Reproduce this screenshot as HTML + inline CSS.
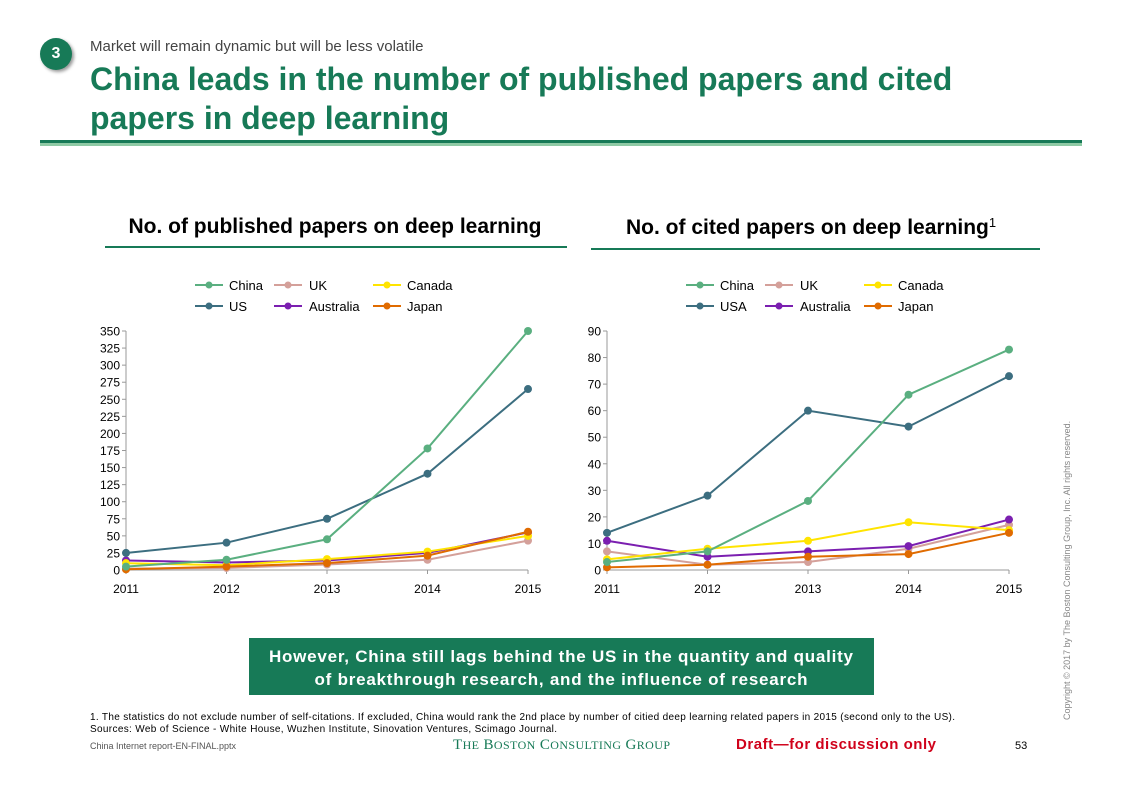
<!DOCTYPE html>
<html><head><meta charset="utf-8"><style>
body{margin:0;width:1123px;height:793px;background:#fff;font-family:"Liberation Sans",Arial,sans-serif;position:relative;overflow:hidden}
.a{position:absolute}
</style></head><body>
<div class="a" style="left:40px;top:38px;width:32px;height:32px;border-radius:50%;background:#177a57;box-shadow:2px 2px 3px #999;color:#fff;font-weight:bold;font-size:16px;text-align:center;line-height:32px">3</div>
<div class="a" style="left:90px;top:38px;font-size:15px;color:#444">Market will remain dynamic but will be less volatile</div>
<div class="a" style="left:90px;top:60px;font-size:32px;font-weight:bold;color:#177a57;line-height:39px;white-space:nowrap">China leads in the number of published papers and cited<br>papers in deep learning</div>
<div class="a" style="left:40px;top:140px;width:1042px;height:3px;background:#177a57"></div>
<div class="a" style="left:40px;top:143px;width:1042px;height:3px;background:#8fcaa5"></div>
<div class="a" style="left:1062px;top:720px;transform:rotate(-90deg);transform-origin:0 0;font-size:9px;color:#888;white-space:nowrap">Copyright © 2017 by The Boston Consulting Group, Inc. All rights reserved.</div>
<svg class="a" style="left:0;top:0" width="1123" height="793" font-family="Liberation Sans,Arial,sans-serif">
<text x="335" y="233" font-size="21" font-weight="bold" text-anchor="middle">No. of published papers on deep learning</text>
<line x1="105" y1="247" x2="567" y2="247" stroke="#177a57" stroke-width="2"/>
<text x="626" y="234" font-size="21" font-weight="bold">No. of cited papers on deep learning<tspan font-size="13" dy="-7" font-weight="normal">1</tspan></text>
<line x1="591" y1="249" x2="1040" y2="249" stroke="#177a57" stroke-width="2"/>
<g font-size="13">
<g>
<line x1="195" y1="285" x2="223" y2="285" stroke="#5aaf80" stroke-width="2"/><circle cx="209" cy="285" r="3.5" fill="#5aaf80"/><text x="229" y="290">China</text>
<line x1="274" y1="285" x2="302" y2="285" stroke="#d4a09a" stroke-width="2"/><circle cx="288" cy="285" r="3.5" fill="#d4a09a"/><text x="309" y="290">UK</text>
<line x1="373" y1="285" x2="401" y2="285" stroke="#ffe400" stroke-width="2"/><circle cx="387" cy="285" r="3.5" fill="#ffe400"/><text x="407" y="290">Canada</text>
<line x1="195" y1="306" x2="223" y2="306" stroke="#3c6e80" stroke-width="2"/><circle cx="209" cy="306" r="3.5" fill="#3c6e80"/><text x="229" y="311">US</text>
<line x1="274" y1="306" x2="302" y2="306" stroke="#7b1fb0" stroke-width="2"/><circle cx="288" cy="306" r="3.5" fill="#7b1fb0"/><text x="309" y="311">Australia</text>
<line x1="373" y1="306" x2="401" y2="306" stroke="#e06b00" stroke-width="2"/><circle cx="387" cy="306" r="3.5" fill="#e06b00"/><text x="407" y="311">Japan</text>
</g>
<g transform="translate(491,0)">
<line x1="195" y1="285" x2="223" y2="285" stroke="#5aaf80" stroke-width="2"/><circle cx="209" cy="285" r="3.5" fill="#5aaf80"/><text x="229" y="290">China</text>
<line x1="274" y1="285" x2="302" y2="285" stroke="#d4a09a" stroke-width="2"/><circle cx="288" cy="285" r="3.5" fill="#d4a09a"/><text x="309" y="290">UK</text>
<line x1="373" y1="285" x2="401" y2="285" stroke="#ffe400" stroke-width="2"/><circle cx="387" cy="285" r="3.5" fill="#ffe400"/><text x="407" y="290">Canada</text>
<line x1="195" y1="306" x2="223" y2="306" stroke="#3c6e80" stroke-width="2"/><circle cx="209" cy="306" r="3.5" fill="#3c6e80"/><text x="229" y="311">USA</text>
<line x1="274" y1="306" x2="302" y2="306" stroke="#7b1fb0" stroke-width="2"/><circle cx="288" cy="306" r="3.5" fill="#7b1fb0"/><text x="309" y="311">Australia</text>
<line x1="373" y1="306" x2="401" y2="306" stroke="#e06b00" stroke-width="2"/><circle cx="387" cy="306" r="3.5" fill="#e06b00"/><text x="407" y="311">Japan</text>
</g>
</g>
<g id="charts"></g>
<rect x="249" y="638" width="625" height="57" fill="#177a57"/>
<text x="561" y="662" font-size="17" font-weight="bold" fill="#fff" text-anchor="middle" textLength="584">However, China still lags behind the US in the quantity and quality</text>
<text x="561" y="685" font-size="17" font-weight="bold" fill="#fff" text-anchor="middle" textLength="493">of breakthrough research, and the influence of research</text>
<text x="90" y="720" font-size="10" textLength="865">1. The statistics do not exclude number of self-citations. If excluded, China would rank the 2nd place by number of citied deep learning related papers in 2015 (second only to the US).</text>
<text x="90" y="732" font-size="10" textLength="467">Sources: Web of Science - White House, Wuzhen Institute, Sinovation Ventures, Scimago Journal.</text>
<text x="90" y="749" font-size="9" fill="#555">China Internet report-EN-FINAL.pptx</text>
<text x="453" y="749" font-size="15" font-family="Liberation Serif,serif" fill="#177a57" textLength="217">T<tspan font-size="12">HE</tspan> B<tspan font-size="12">OSTON</tspan> C<tspan font-size="12">ONSULTING</tspan> G<tspan font-size="12">ROUP</tspan></text>
<text x="736" y="749" font-size="15" font-weight="bold" fill="#d0021b" textLength="200">Draft—for discussion only</text>
<text x="1015" y="749" font-size="11">53</text>
</svg>
<script>
const ns="http://www.w3.org/2000/svg",g=document.getElementById("charts");
function el(t,a,txt){const e=document.createElementNS(ns,t);for(const k in a)e.setAttribute(k,a[k]);if(txt!=null)e.textContent=txt;g.appendChild(e);return e}
const cols={China:"#5aaf80",US:"#3c6e80",UK:"#d4a09a",Canada:"#ffe400",Australia:"#7b1fb0",Japan:"#e06b00"};
function chart(x0,x1,max,step,data){
 const y0=570,y1=331;
 el("line",{x1:x0,y1:y1,x2:x0,y2:y0,stroke:"#999"});el("line",{x1:x0,y1:y0,x2:x1,y2:y0,stroke:"#999"});
 for(let v=0;v<=max;v+=step){const y=y0-(y0-y1)*v/max;el("line",{x1:x0-4,y1:y,x2:x0,y2:y,stroke:"#999"});el("text",{x:x0-6,y:y+4.5,"font-size":12,"text-anchor":"end"},v)}
 for(let i=0;i<5;i++){const x=x0+(x1-x0)*i/4;el("line",{x1:x,y1:y0,x2:x,y2:y0+4,stroke:"#999"});el("text",{x:x,y:y0+23,"font-size":12,"text-anchor":"middle"},2011+i)}
 for(const k of ["UK","Australia","Canada","Japan","US","China"]){const d=data[k];const pts=d.map((v,i)=>[x0+(x1-x0)*i/4,y0-(y0-y1)*v/max]);
  el("polyline",{points:pts.map(p=>p.join(",")).join(" "),fill:"none",stroke:cols[k],"stroke-width":2});
  pts.forEach(p=>el("circle",{cx:p[0],cy:p[1],r:4,fill:cols[k]}));}
}
chart(126,528,350,25,{China:[5,15,45,178,350],US:[25,40,75,141,265],UK:[2,3,8,15,43],Canada:[10,7,16,27,50],Australia:[14,11,14,25,55],Japan:[1,5,10,21,56]});
chart(607,1009,90,10,{China:[3,7,26,66,83],US:[14,28,60,54,73],UK:[7,2,3,8,17],Canada:[4,8,11,18,15],Australia:[11,5,7,9,19],Japan:[1,2,5,6,14]});
</script>
</body></html>
